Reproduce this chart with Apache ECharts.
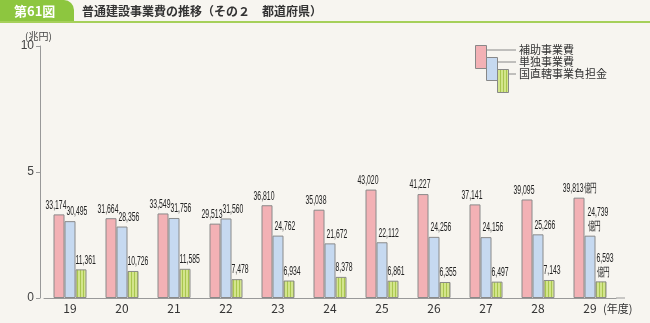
<!DOCTYPE html>
<html><head><meta charset="utf-8">
<script src="https://cdn.jsdelivr.net/npm/echarts@6/dist/echarts.min.js"></script>
<style>html,body{margin:0;padding:0;background:#f7f5f0;}#c{width:650px;height:323px;}</style>
</head><body><div id="c"></div>
<script>
const categories = ['19','20','21','22','23','24','25','26','27','28','29'];
const hojo = [33174,31664,33549,29513,36810,35038,43020,41227,37141,39095,39813];
const tandoku = [30495,28356,31756,31560,24762,21672,22112,24256,24156,25266,24739];
const chokkatsu = [11361,10726,11585,7478,6934,8378,6861,6355,6497,7143,6593];
const yTicks = ['0','5','10'];
const seriesNames = ['補助事業費','単独事業費','国直轄事業負担金'];

const fmt = v => v.toLocaleString('en-US');
const FONT = '"Noto Sans CJK JP", sans-serif';
const pinkC = '#f3b1b5', blueC = '#c6d9f0', greenC = '#d3e58c';
const BW = 11;

function stripe(){
  const c = document.createElement('canvas'); c.width = 3; c.height = 4;
  const g = c.getContext('2d');
  g.fillStyle = greenC; g.fillRect(0,0,3,4);
  g.fillStyle = '#a9c64e'; g.fillRect(2,0,1,4);
  return c;
}
const stripeImg = stripe();
const last = categories.length - 1;

// label series: k = bar slot (-1,0,1)
function labelSeries(values, k){
  return {
    type:'custom', z:10, silent:true,
    data: values.map((v,i)=>[i,v]),
    renderItem:(params, api)=>{
      const i = api.value(0), v = api.value(1);
      const p = api.coord([i, v]);
      const barLeft = p[0] + k*BW - BW/2;
      const isLast = i === last;
      let text = fmt(v), x, align = 'left';
      if (k === -1) {
        if (isLast) { text += '億円'; x = barLeft + BW/2 + 1; } else { x = barLeft + BW/2 - 3; }
        align = 'center';
      } else {
        if (isLast) text += '\n億円';
        x = barLeft + (k === 0 ? 2 : 0) + (isLast ? 1 : 0);
      }
      return {type:'text', x:x, y:p[1]-2, scaleX:0.57, scaleY:1,
        style:{text:text, fill:'#222', font:'12px "Liberation Sans", sans-serif', lineHeight:14,
          textAlign:align, textVerticalAlign:'bottom'}};
    }
  };
}

const chart = echarts.init(document.getElementById('c'));
chart.setOption({
  backgroundColor:'#f7f5f0',
  animation:false,
  grid:{left:44, right:34, top:46, bottom:25},
  xAxis:{type:'category', data:categories,
    axisLine:{lineStyle:{color:'#999', width:1}}, axisTick:{show:false},
    axisLabel:{color:'#333', fontSize:12, fontFamily:FONT, margin:4}},
  yAxis:{type:'value', min:0, max:100000, interval:50000, offset:4,
    axisLine:{show:true, lineStyle:{color:'#999'}},
    axisTick:{show:true, length:4, lineStyle:{color:'#999'}},
    splitLine:{show:false},
    axisLabel:{color:'#444', fontSize:12, fontFamily:'"Liberation Sans",sans-serif', margin:6,
      formatter:(v)=>yTicks[Math.round(v/50000)]}},
  series:[
    {name:seriesNames[0], type:'bar', data:hojo, barWidth:BW, barGap:'0%',
      itemStyle:{color:pinkC, borderColor:'#8a8a8a', borderWidth:1}},
    {name:seriesNames[1], type:'bar', data:tandoku, barWidth:BW,
      itemStyle:{color:blueC, borderColor:'#8a8a8a', borderWidth:1}},
    {name:seriesNames[2], type:'bar', data:chokkatsu, barWidth:BW,
      itemStyle:{color:{image:stripeImg, repeat:'repeat'}, borderColor:'#8a8a8a', borderWidth:1}},
    labelSeries(hojo, -1),
    labelSeries(tandoku, 0),
    labelSeries(chokkatsu, 1)
  ],
  graphic:[
    {type:'rect', shape:{x:0,y:0,width:74,height:22,r:[0,10,0,0]}, style:{fill:'#8dc63f'}},
    {type:'rect', shape:{x:0,y:21,width:650,height:2}, style:{fill:'#a6d05a'}},
    {type:'text', x:14, y:11, style:{text:'第61図', fill:'#fff', font:'bold 13px '+FONT, verticalAlign:'middle'}},
    {type:'text', x:82, y:11, style:{text:'普通建設事業費の推移（その２　都道府県）', fill:'#333', font:'bold 12px '+FONT, verticalAlign:'middle'}},
    {type:'text', x:25, y:36, style:{text:'(兆円)', fill:'#444', font:'10px '+FONT, verticalAlign:'middle'}},
    {type:'text', x:603, y:309, style:{text:'(年度)', fill:'#333', font:'11px '+FONT, verticalAlign:'middle'}},
    {type:'line', shape:{x1:616,y1:298,x2:625,y2:298}, style:{stroke:'#999',lineWidth:1}},
    // legend
    {type:'line', shape:{x1:486,y1:50,x2:516,y2:50}, style:{stroke:'#888',lineWidth:1}},
    {type:'line', shape:{x1:497,y1:62,x2:516,y2:62}, style:{stroke:'#888',lineWidth:1}},
    {type:'line', shape:{x1:509,y1:74,x2:516,y2:74}, style:{stroke:'#888',lineWidth:1}},
    {type:'rect', shape:{x:475.5,y:45.5,width:11,height:23}, style:{fill:pinkC, stroke:'#888'}},
    {type:'rect', shape:{x:486.5,y:57.5,width:11,height:23}, style:{fill:blueC, stroke:'#888'}},
    {type:'rect', shape:{x:497.5,y:69.5,width:11,height:23}, style:{fill:{image:stripeImg, repeat:'repeat'}, stroke:'#888'}},
    {type:'text', x:519, y:50, style:{text:seriesNames[0], fill:'#333', font:'11px '+FONT, verticalAlign:'middle'}},
    {type:'text', x:519, y:62, style:{text:seriesNames[1], fill:'#333', font:'11px '+FONT, verticalAlign:'middle'}},
    {type:'text', x:519, y:74, style:{text:seriesNames[2], fill:'#333', font:'11px '+FONT, verticalAlign:'middle'}}
  ]
});
</script></body></html>
